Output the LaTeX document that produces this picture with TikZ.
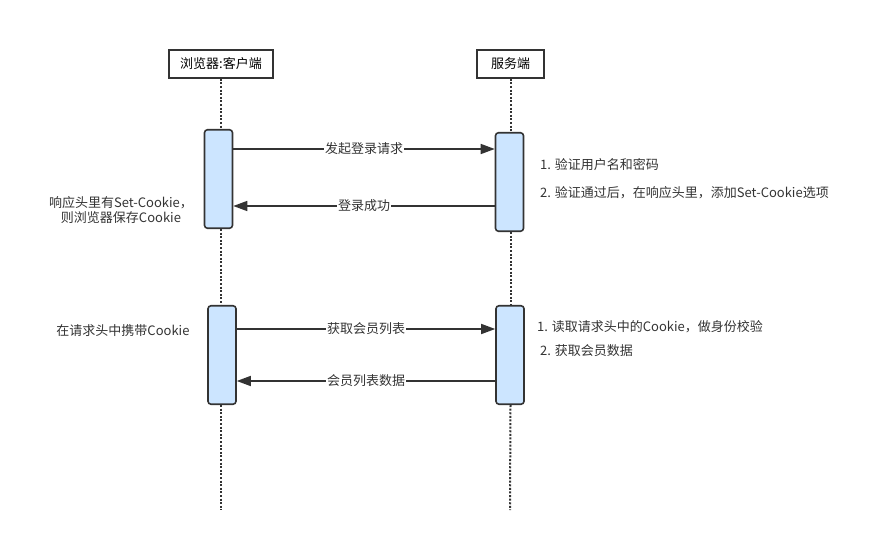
\documentclass[tikz,border=0pt]{standalone}
\usepackage{fontspec}
\setmainfont{Noto Sans CJK SC}
\usetikzlibrary{arrows.meta}
\definecolor{actfill}{HTML}{CCE5FF}
\definecolor{linegray}{HTML}{333333}

\begin{document}
\begin{tikzpicture}[x=1pt,y=-1pt,
  font=\fontsize{13}{15.5}\selectfont,
  head node/.style={rectangle,draw=linegray,line width=1.6pt,minimum width=104pt,minimum height=28pt,inner sep=0pt},
  act node/.style={rectangle,rounded corners=3pt,draw=linegray,fill=actfill,line width=1.6pt,minimum width=28pt,minimum height=98.5pt,inner sep=0pt},
  life/.style={draw=linegray,line width=2pt,dash pattern=on 2pt off 1.6pt},
  msg/.style={draw=linegray,line width=1.6pt,-{Triangle[length=14pt,width=10pt]}},
  note node/.style={text=linegray,inner sep=0pt}]
  \useasboundingbox (0,0) rectangle (875,545);

  \node[head node] (0) at (221,64) {浏览器:客户端};
  \node[head node,minimum width=67pt] (1) at (510.5,64) {服务端};
  \node[act node] (2) at (218.5,179) {};
  \node[act node] (3) at (509.5,182) {};
  \node[act node] (4) at (222,355) {};
  \node[act node] (5) at (510,355) {};
  \coordinate (6) at (221,510);
  \coordinate (7) at (510,510);

  % lifelines
  \path[life] (0) edge (0 |- 2.north)
    (0 |- 2.south) edge (0 |- 4.north)
    (0 |- 4.south) edge (6)
    (1) edge (1 |- 3.north)
    (1 |- 3.south) edge (1 |- 5.north)
    (1 |- 5.south) edge (7);

  % messages
  \coordinate (r1) at (0,149);
  \coordinate (r2) at (0,206);
  \coordinate (r3) at (0,329);
  \coordinate (r4) at (0,381);
  \path[every node/.style={fill=white,text=linegray,inner sep=1pt}]
    (2.east |- r1) edge[msg] node{发起登录请求} (3.west |- r1)
    (3.west |- r2) edge[msg] node{登录成功} (2.east |- r2)
    (4.east |- r3) edge[msg] node{获取会员列表} (5.west |- r3)
    (5.west |- r4) edge[msg] node{会员列表数据} (4.east |- r4);

  % notes
  \node[note node,anchor=west] (8) at (540,165) {1. 验证用户名和密码};
  \node[note node,anchor=west] (9) at (540,193) {2. 验证通过后，在响应头里，添加Set-Cookie选项};
  \node[note node,anchor=west] (10) at (537,327) {1. 读取请求头中的Cookie，做身份校验};
  \node[note node,anchor=west] (11) at (540,351) {2. 获取会员数据};
  \node[note node,align=center] (12) at (121,210) {响应头里有Set-Cookie，\\则浏览器保存Cookie};
  \node[note node] (13) at (123,331) {在请求头中携带Cookie};
\end{tikzpicture}
\end{document}
